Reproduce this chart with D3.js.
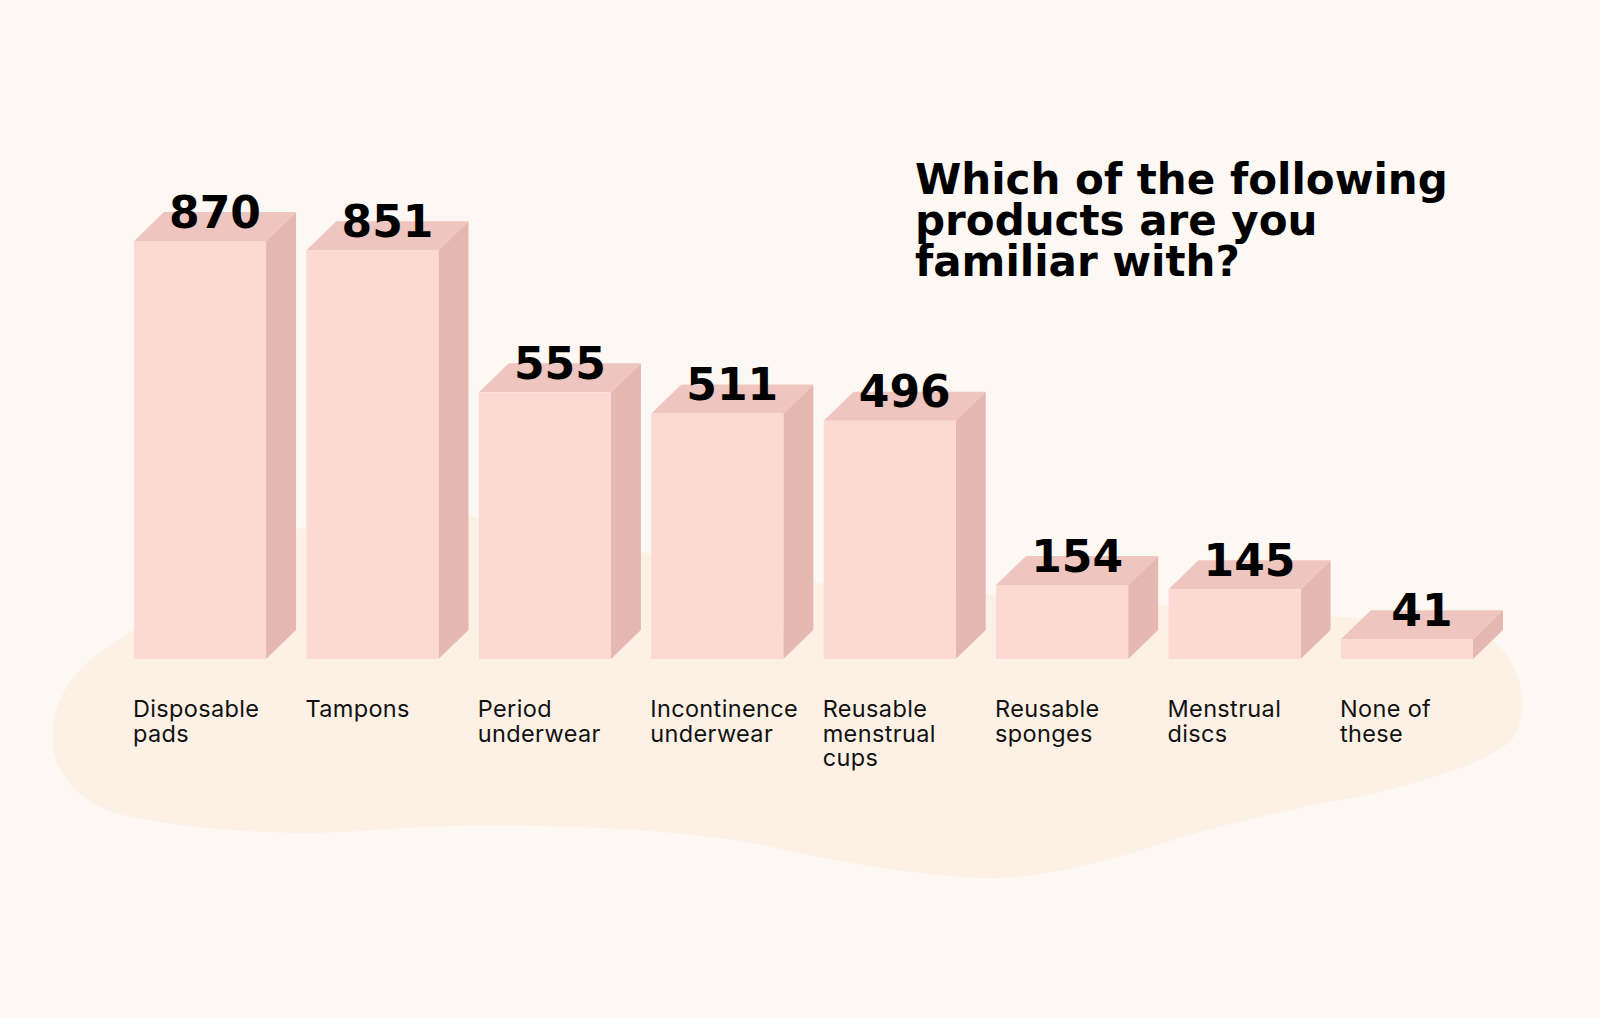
<!DOCTYPE html>
<html>
<head>
<meta charset="utf-8">
<script src="https://cdn.jsdelivr.net/npm/d3@7"></script>
<style>
  html, body { margin: 0; padding: 0; background: #fdf8f3; }
  svg { display: block; }
</style>
</head>
<body>
<svg id="chart" width="1600" height="1018"></svg>
<script>
// ---- data ----
const categories = ["Disposable pads", "Tampons", "Period underwear", "Incontinence underwear",
  "Reusable menstrual cups", "Reusable sponges", "Menstrual discs", "None of these"];
const values = [870, 851, 555, 511, 496, 154, 145, 41];
const labelLines = [["Disposable", "pads"], ["Tampons"], ["Period", "underwear"],
  ["Incontinence", "underwear"], ["Reusable", "menstrual", "cups"], ["Reusable", "sponges"],
  ["Menstrual", "discs"], ["None of", "these"]];
const titleLines = ["Which of the following", "products are you", "familiar with?"];
// background blob outline (decorative shape)
const blobPoints = [[53,747],[60,700],[85,665],[130,632],[200,580],[300,528],[400,515],[473,517],
  [560,540],[647,553],[740,570],[818,583],[900,590],[990,595],[1100,601],[1200,608],[1300,615],
  [1420,622],[1480,632],[1510,660],[1522,700],[1515,735],[1490,755],[1400,787],[1300,808],
  [1200,832],[1100,862],[1002,878],[912,872],[823,858],[734,840],[600,828],[450,826],[300,833],
  [167,823],[100,807],[67,780]];

// ---- layout ----
const W = 1600, H = 1018;
const baseY = 659;
const depthX = 30, depthY = 29;
const colors = { bg: "#fdf8f3", blob: "#fdf1e6", front: "#fdd9d3", top: "#efc5bf", side: "#e5b8b2" };

const svg = d3.select("#chart");
svg.append("rect").attr("width", W).attr("height", H).attr("fill", colors.bg);

svg.append("path")
  .attr("d", d3.line().curve(d3.curveCatmullRomClosed.alpha(0.5))(blobPoints))
  .attr("fill", colors.blob);

const x = d3.scaleBand().domain(categories).range([134, 1473]).paddingInner(0.234).paddingOuter(0);
const h = d3.scaleLinear().domain([0, 870]).range([0, 418]);

const bars = svg.append("g").selectAll("g").data(categories).join("g");

bars.each(function(c, i) {
  const g = d3.select(this);
  const x0 = x(c), bw = x.bandwidth();
  const top = baseY - h(values[i]);
  // side face
  g.append("path")
    .attr("d", `M${x0 + bw},${top} L${x0 + bw + depthX},${top - depthY} L${x0 + bw + depthX},${baseY - depthY} L${x0 + bw},${baseY} Z`)
    .attr("fill", colors.side);
  // top face
  g.append("path")
    .attr("d", `M${x0},${top} L${x0 + depthX},${top - depthY} L${x0 + bw + depthX},${top - depthY} L${x0 + bw},${top} Z`)
    .attr("fill", colors.top);
  // front face
  g.append("rect")
    .attr("x", x0).attr("y", top).attr("width", bw).attr("height", baseY - top)
    .attr("fill", colors.front);
  // value
  g.append("text")
    .attr("x", x0 + bw / 2 + depthX / 2)
    .attr("y", top - depthY / 2 + 1)
    .attr("text-anchor", "middle")
    .attr("font-family", "'DejaVu Sans', sans-serif")
    .attr("font-weight", "bold")
    .attr("font-size", 44)
    .attr("fill", "#000")
    .text(values[i]);
  // category label
  const t = g.append("text")
    .attr("x", x0 - 1)
    .attr("y", 717)
    .attr("font-family", "Inter, 'Liberation Sans', sans-serif")
    .attr("font-size", 23.5)
    .attr("letter-spacing", 0.35)
    .attr("fill", "#111");
  labelLines[i].forEach((ln, j) => {
    t.append("tspan").attr("x", x0 - 1).attr("dy", j === 0 ? 0 : 24.5).text(ln);
  });
});

// title
const title = svg.append("text")
  .attr("x", 915).attr("y", 194)
  .attr("font-family", "'DejaVu Sans', sans-serif")
  .attr("font-weight", "bold")
  .attr("font-size", 42)
  .attr("fill", "#000");
titleLines.forEach((ln, j) => {
  title.append("tspan").attr("x", 915).attr("dy", j === 0 ? 0 : 41).text(ln);
});
</script>
</body>
</html>
